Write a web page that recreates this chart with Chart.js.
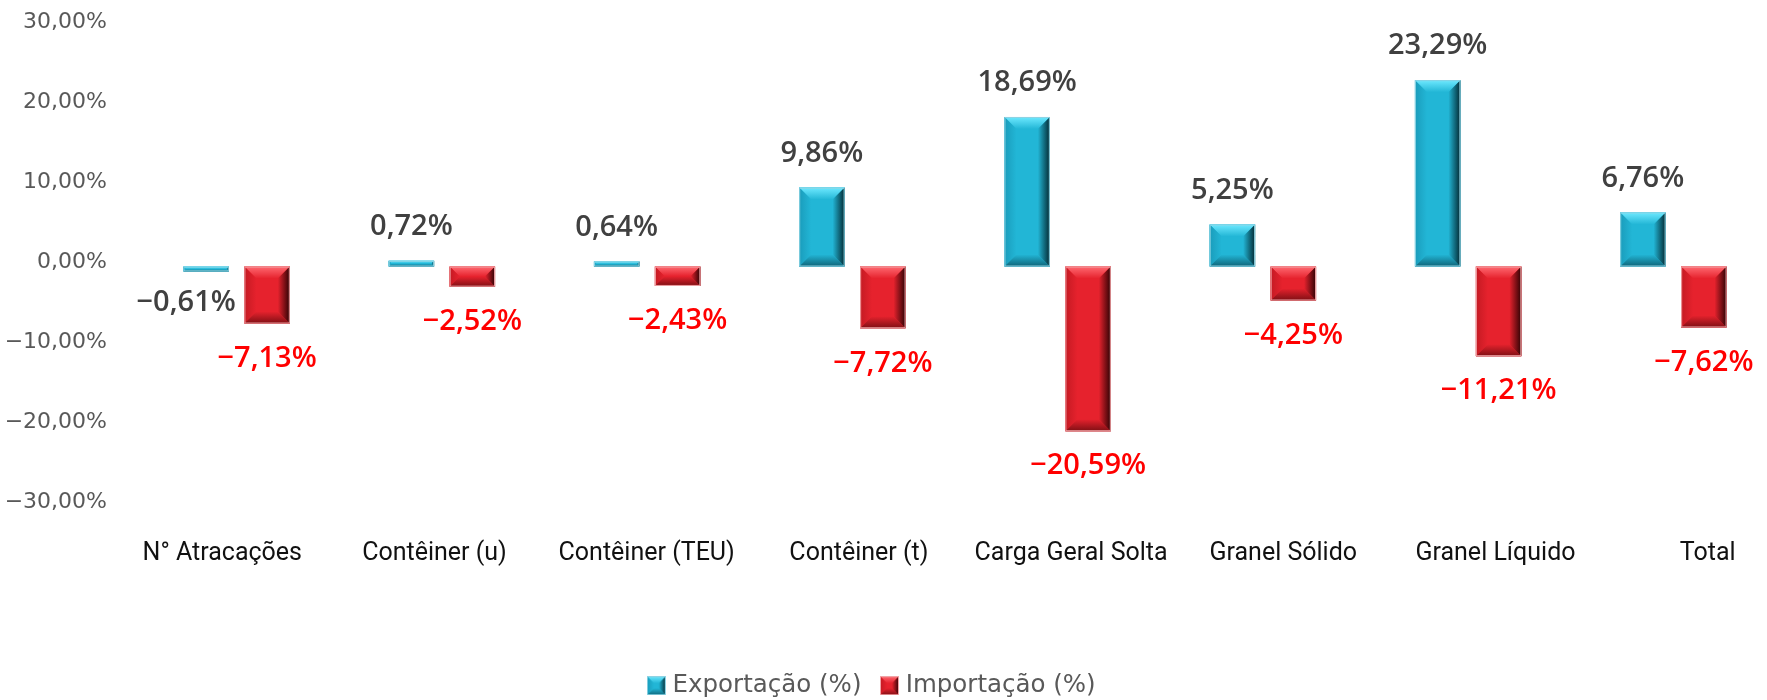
<!DOCTYPE html>
<html>
<head>
<meta charset="utf-8">
<script src="https://cdn.jsdelivr.net/npm/chart.js@4.4.0/dist/chart.umd.min.js"></script>
<style>
  html, body { margin: 0; padding: 0; background: #fff; overflow: hidden; }
  #wrap { width: 1776px; height: 700px; }
</style>
</head>
<body>
<div id="wrap"><canvas id="grafico"></canvas></div>
<script>
// dados do grafico (variacao % exportacao x importacao)
var categorias = ['N° Atracações', 'Contêiner (u)', 'Contêiner (TEU)', 'Contêiner (t)',
    'Carga Geral Solta', 'Granel Sólido', 'Granel Líquido', 'Total'];
var exportacao = [-0.61, 0.72, 0.64, 9.86, 18.69, 5.25, 23.29, 6.76];
var importacao = [-7.13, -2.52, -2.43, -7.72, -20.59, -4.25, -11.21, -7.62];
var nomesSeries = ['Exportação (%)', 'Importação (%)'];
var eixoY = { min: -30, max: 30, passo: 10 };

// cores do efeito "bisel" de cada serie
var paletas = [
    { face: '#22b6d6', top: '#6ee9ff', left: '#1a9cbb', right: '#032a33', bottom: '#0f6478',
      borda: '#8fd3e3', label: '#404040' },
    { face: '#e6222d', top: '#ff6a72', left: '#c41a23', right: '#2e0204', bottom: '#7e0f14',
      borda: '#f0a3a6', label: '#ff0000' }
];

function formata(v) {
    var s = Math.abs(v).toFixed(2).replace('.', ',') + '%';
    return (v < 0 ? '−' : '') + s;
}

function poligono(ctx, pts, estilo) {
    ctx.beginPath();
    ctx.moveTo(pts[0][0], pts[0][1]);
    for (var k = 1; k < pts.length; k++) ctx.lineTo(pts[k][0], pts[k][1]);
    ctx.closePath();
    ctx.fillStyle = estilo;
    ctx.fill();
}

function gradiente(ctx, x0, y0, x1, y1, c0, c1) {
    var g = ctx.createLinearGradient(x0, y0, x1, y1);
    g.addColorStop(0, c0);
    g.addColorStop(1, c1);
    return g;
}

function desenhaBisel(ctx, l, t, r, b, pal, tam) {
    var s = Math.min(tam, (b - t) / 2, (r - l) / 2);
    ctx.save();
    ctx.fillStyle = pal.face;
    ctx.fillRect(l, t, r - l, b - t);
    if (s > 0.5) {
        poligono(ctx, [[l, t], [r, t], [r - s, t + s], [l + s, t + s]],
            gradiente(ctx, 0, t, 0, t + s, pal.top, pal.face));
        poligono(ctx, [[l, t], [l + s, t + s], [l + s, b - s], [l, b]],
            gradiente(ctx, l, 0, l + s, 0, pal.left, pal.face));
        poligono(ctx, [[l, b], [r, b], [r - s, b - s], [l + s, b - s]],
            gradiente(ctx, 0, b - s, 0, b, pal.face, pal.bottom));
        poligono(ctx, [[r, t], [r, b], [r - s, b - s], [r - s, t + s]],
            gradiente(ctx, r - s, 0, r, 0, pal.face, pal.right));
    }
    ctx.strokeStyle = pal.borda;
    ctx.lineWidth = 1;
    ctx.strokeRect(l + 0.5, t + 0.5, r - l - 1, b - t - 1);
    ctx.restore();
}

// icones da legenda
function iconeLegenda(pal) {
    var c = document.createElement('canvas');
    c.width = 19; c.height = 19;
    desenhaBisel(c.getContext('2d'), 0, 0, 19, 19, pal, 7);
    return c;
}

var biselPlugin = {
    id: 'bisel',
    afterDatasetsDraw: function (chart) {
        var ctx = chart.ctx;
        chart.data.datasets.forEach(function (ds, i) {
            chart.getDatasetMeta(i).data.forEach(function (bar) {
                var p = bar.getProps(['x', 'y', 'base', 'width'], true);
                desenhaBisel(ctx, p.x - p.width / 2, Math.min(p.y, p.base),
                    p.x + p.width / 2, Math.max(p.y, p.base), paletas[i], 12);
            });
        });
    }
};

var rotulosPlugin = {
    id: 'rotulos',
    afterDatasetsDraw: function (chart) {
        var ctx = chart.ctx;
        ctx.save();
        ctx.font = '600 29px "Open Sans"';
        ctx.textAlign = 'center';
        ctx.textBaseline = 'middle';
        chart.data.datasets.forEach(function (ds, i) {
            chart.getDatasetMeta(i).data.forEach(function (bar, j) {
                var v = ds.data[j];
                var p = bar.getProps(['x', 'y', 'base'], true);
                var x = p.x, y;
                if (v >= 0) {
                    y = Math.min(p.y, p.base) - 34;
                } else if (i === 0) {
                    x -= 20;
                    y = Math.max(p.y, p.base) + 31;
                } else {
                    y = Math.max(p.y, p.base) + 35;
                }
                ctx.fillStyle = paletas[i].label;
                ctx.fillText(formata(v), x, y);
            });
        });
        ctx.restore();
    }
};

// desloca a legenda para a posicao do original
var legendaPlugin = {
    id: 'legendaDesloc',
    afterLayout: function (chart) {
        var lg = chart.legend;
        lg.left -= 14;
        lg.right -= 14;
        lg.top += 4.5;
        lg.bottom += 4.5;
    }
};

function semPadding(scale) {
    scale.paddingTop = 0;
    scale.paddingBottom = 0;
    scale.paddingLeft = 0;
    scale.paddingRight = 0;
}

var ctx = document.getElementById('grafico').getContext('2d');
var grafico = new Chart(ctx, {
    type: 'bar',
    data: {
        labels: categorias,
        datasets: [
            { label: nomesSeries[0], data: exportacao, backgroundColor: paletas[0].face,
              pointStyle: iconeLegenda(paletas[0]) },
            { label: nomesSeries[1], data: importacao, backgroundColor: paletas[1].face,
              pointStyle: iconeLegenda(paletas[1]) }
        ]
    },
    options: {
        responsive: true,
        maintainAspectRatio: false,
        animation: false,
        layout: { padding: { top: 26.5, right: 0, bottom: 0, left: 0 } },
        datasets: { bar: { categoryPercentage: 0.594, barPercentage: 0.745 } },
        scales: {
            x: {
                display: false
            },
            // eixo so para os nomes das categorias (espacamento do original)
            rotulos: {
                type: 'linear',
                axis: 'x',
                position: 'bottom',
                bounds: 'data',
                offset: false,
                min: -0.416,
                max: 7.322,
                grid: { display: false, drawTicks: false },
                border: { display: false },
                afterBuildTicks: function (scale) {
                    scale.ticks = categorias.map(function (c, i) { return { value: i }; });
                },
                ticks: {
                    color: '#111',
                    font: { family: 'Roboto', size: 25 },
                    padding: 32,
                    maxRotation: 0,
                    autoSkip: false,
                    callback: function (v) { return categorias[v]; }
                },
                afterFit: function (scale) { semPadding(scale); scale.height = 138.5; }
            },
            y: {
                min: eixoY.min, max: eixoY.max,
                grid: { display: false, drawTicks: false },
                border: { display: false },
                ticks: {
                    stepSize: eixoY.passo,
                    color: '#595959',
                    font: { family: 'DejaVu Sans', size: 22 },
                    padding: 27,
                    labelOffset: -4,
                    callback: function (v) { return formata(v); }
                },
                afterFit: function (scale) { semPadding(scale); scale.width = 134; }
            }
        },
        plugins: {
            tooltip: { enabled: false },
            legend: {
                position: 'bottom',
                maxHeight: 55,
                labels: {
                    usePointStyle: true,
                    pointStyleWidth: 8,
                    color: '#595959',
                    font: { family: 'DejaVu Sans', size: 24.5 },
                    padding: 24
                }
            }
        }
    },
    plugins: [biselPlugin, rotulosPlugin, legendaPlugin]
});
</script>
</body>
</html>
